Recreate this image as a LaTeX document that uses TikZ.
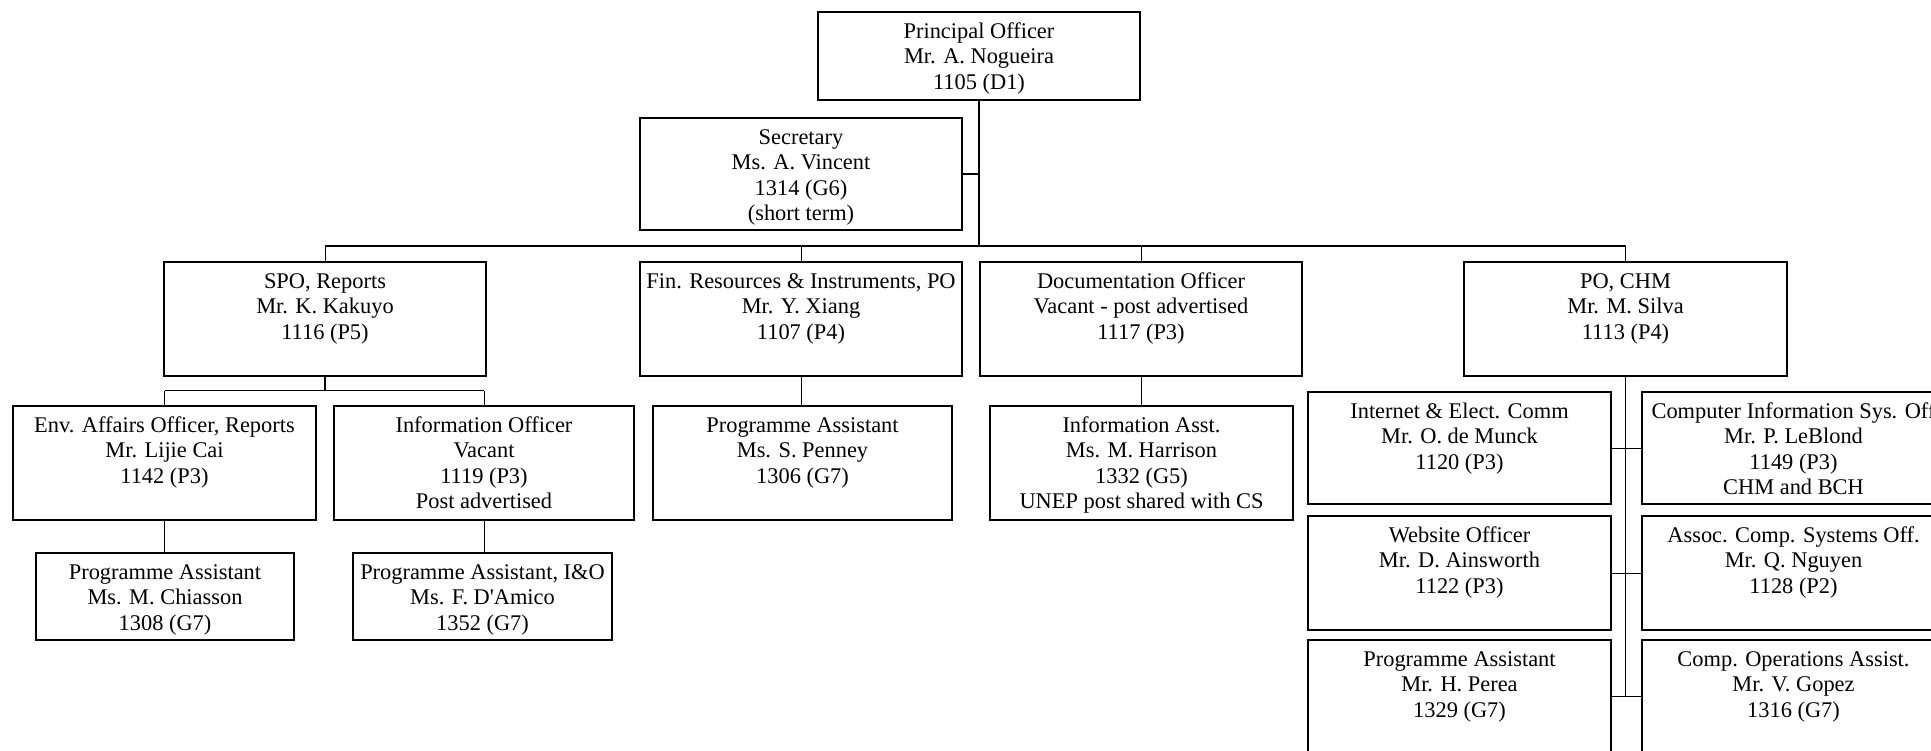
\documentclass[tikz,border=0pt]{standalone}
\usepackage{fontspec}
\setmainfont{Liberation Serif}[Ligatures=TeXOff]
\usetikzlibrary{fit}
\tikzset{
  obox/.style={draw=black, line width=0.75pt, inner sep=0pt, rectangle},
  otext/.style={font=\fontsize{11.2}{12.6}\selectfont, align=center, inner sep=0pt, anchor=north, yshift=-4.7pt},
  thicklink/.style={draw=black, line width=0.7pt},
  thinlink/.style={draw=black, line width=0.45pt},
}
\newcommand\orgbox[6]{%
  \coordinate (#1-nw) at (#2,#3);
  \coordinate (#1-se) at (#4,#5);
  \node[obox, fit=(#1-nw)(#1-se)] (#1) {};
  \node[otext] (#1-t) at (#1.north) {\strut #6};
}
\begin{document}
\begin{tikzpicture}[x=0.5pt, y=-0.5pt]
\useasboundingbox (0,0) rectangle (1931,750);
\fill[white] (0,0) rectangle (1931,750);
\clip (0,0) rectangle (1931,750);

\orgbox{P}{818}{12}{1140}{100}{Principal Officer\\Mr. A. Nogueira\\1105 (D1)}
\orgbox{Sec}{640}{118}{962}{230}{Secretary\\Ms. A. Vincent\\1314 (G6)\\(short term)}
\orgbox{SPO}{164}{262}{486}{376}{SPO, Reports\\Mr. K. Kakuyo\\1116 (P5)}
\orgbox{Fin}{640}{262}{962}{376}{Fin. Resources \& Instruments, PO\\Mr. Y. Xiang\\1107 (P4)}
\orgbox{Doc}{980}{262}{1302}{376}{Documentation Officer\\Vacant - post advertised\\1117 (P3)}
\orgbox{PO}{1464}{262}{1787}{376}{PO, CHM\\Mr. M. Silva\\1113 (P4)}
\orgbox{Env}{13}{406}{316}{520}{Env. Affairs Officer, Reports\\Mr. Lijie Cai\\1142 (P3)}
\orgbox{InfoOff}{334}{406}{634}{520}{Information Officer\\Vacant\\1119 (P3)\\Post advertised}
\orgbox{PAone}{653}{406}{952}{520}{Programme Assistant\\Ms. S. Penney\\1306 (G7)}
\orgbox{IA}{990}{406}{1293}{520}{Information Asst.\\Ms. M. Harrison\\1332 (G5)\\UNEP post shared with CS}
\orgbox{Chi}{36}{553}{294}{640}{Programme Assistant\\Ms. M. Chiasson\\1308 (G7)}
\orgbox{Ami}{353}{553}{612}{640}{Programme Assistant, I\&O\\Ms. F. D'Amico\\1352 (G7)}
\orgbox{Lone}{1308}{392}{1611}{504}{Internet \& Elect. Comm\\Mr. O. de Munck\\1120 (P3)}
\orgbox{Rone}{1642}{392}{1945}{504}{Computer Information Sys. Off\\Mr. P. LeBlond\\1149 (P3)\\CHM and BCH}
\orgbox{Ltwo}{1308}{516}{1611}{630}{Website Officer\\Mr. D. Ainsworth\\1122 (P3)}
\orgbox{Rtwo}{1642}{516}{1945}{630}{Assoc. Comp. Systems Off.\\Mr. Q. Nguyen\\1128 (P2)}
\orgbox{Lthree}{1308}{640}{1611}{753}{Programme Assistant\\Mr. H. Perea\\1329 (G7)}
\orgbox{Rthree}{1642}{640}{1945}{753}{Comp. Operations Assist.\\Mr. V. Gopez\\1316 (G7)}

% top level
\coordinate (bus) at (979,246);
\draw[thicklink] (P.south) -- (bus);
\draw[thicklink] (Sec.east) -- (Sec.east -| bus);
\draw[thicklink] (SPO.north |- bus) -- (PO.north |- bus);
\draw[thinlink] (SPO.north) -- (SPO.north |- bus);
\draw[thinlink] (Fin.north) -- (Fin.north |- bus);
\draw[thinlink] (Doc.north) -- (Doc.north |- bus);
\draw[thinlink] (PO.north) -- (PO.north |- bus);

% SPO subtree
\path (SPO.south) ++(0,14) coordinate (sb);
\draw[thicklink] (SPO.south) -- (sb);
\draw[thicklink] (Env.north |- sb) -- (InfoOff.north |- sb);
\draw[thinlink] (Env.north) -- (Env.north |- sb);
\draw[thinlink] (InfoOff.north) -- (InfoOff.north |- sb);
\draw[thinlink] (Env.south) -- (Env.south |- Chi.north);
\draw[thinlink] (InfoOff.south) -- (InfoOff.south |- Ami.north);

% Fin and Doc
\draw[thinlink] (Fin.south) -- (Fin.south |- PAone.north);
\draw[thinlink] (Doc.south) -- (Doc.south |- IA.north);

% PO CHM column
\draw[thicklink] (PO.south) -- (PO.south |- Lthree.east);
\draw[thinlink] (Lone.east) -- (Rone.west);
\draw[thinlink] (Ltwo.east) -- (Rtwo.west);
\draw[thinlink] (Lthree.east) -- (Rthree.west);
\end{tikzpicture}
\end{document}
